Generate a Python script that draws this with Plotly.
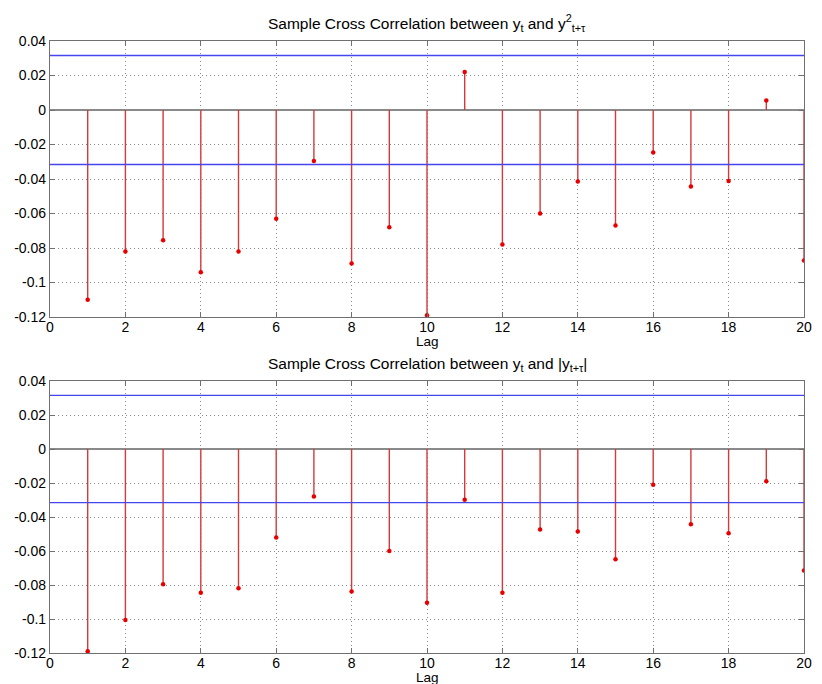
import plotly.graph_objects as go

lags = list(range(1, 21))
xc_sq = [-0.110, -0.082, -0.0755, -0.094, -0.082, -0.063, -0.0296, -0.089, -0.068, -0.119,
         0.022, -0.078, -0.060, -0.0415, -0.067, -0.0247, -0.0444, -0.0412, 0.0055, -0.0873]
xc_abs = [-0.119, -0.1006, -0.0796, -0.0846, -0.0819, -0.052, -0.028, -0.0838, -0.060, -0.0905,
          -0.0299, -0.0846, -0.0473, -0.0486, -0.0648, -0.021, -0.0442, -0.0496, -0.019, -0.0715]
conf = 0.0316
xticks = list(range(0, 21, 2))
yticks = [0.04, 0.02, 0, -0.02, -0.04, -0.06, -0.08, -0.1, -0.12]
ytick_text = ["0.04", "0.02", "0", "-0.02", "-0.04", "-0.06", "-0.08", "-0.1", "-0.12"]
titles = ["Sample Cross Correlation between y<sub>t</sub> and y<sup>2</sup><sub>t+τ</sub>",
          "Sample Cross Correlation between y<sub>t</sub> and |y<sub>t+τ</sub>|"]

W, H = 822, 684
ml, mr, mt, mb = 50, 10, 41, 31
ph = H - mt - mb
top_dom = [1 - (317 - mt) / ph, 1]
bot_dom = [0, 1 - (381 - mt) / ph]

fig = go.Figure()
fam = "Liberation Sans, Arial, sans-serif"
font = dict(family=fam, size=14, color="black")

for i, vals in enumerate([xc_sq, xc_abs]):
    xa = "x" if i == 0 else "x2"
    ya = "y" if i == 0 else "y2"
    sx, sy = [], []
    for l, v in zip(lags, vals):
        sx += [l, l, None]
        sy += [0, v, None]
    # baseline
    fig.add_trace(go.Scatter(x=[0, 20], y=[0, 0], mode="lines",
                             line=dict(color="#8a8a8a", width=2), xaxis=xa, yaxis=ya,
                             showlegend=False, hoverinfo="skip"))
    fig.add_trace(go.Scatter(x=sx, y=sy, mode="lines", line=dict(color="#d43a3a", width=1.4),
                             xaxis=xa, yaxis=ya, showlegend=False, hoverinfo="skip"))
    fig.add_trace(go.Scatter(x=lags, y=vals, mode="markers",
                             marker=dict(color="#e80000", size=4.5), xaxis=xa, yaxis=ya,
                             showlegend=False))
    # confidence bounds
    for c in (-conf, conf):
        fig.add_trace(go.Scatter(x=[0, 20], y=[c, c], mode="lines",
                                 line=dict(color="#4646ee", width=1.3),
                                 xaxis=xa, yaxis=ya, showlegend=False, hoverinfo="skip"))

axis_common = dict(showline=True, linecolor="#707070", linewidth=1.2, mirror="ticks",
                   ticks="inside", ticklen=5, tickcolor="#707070",
                   showgrid=True, gridcolor="#8c8c8c", griddash="1px,3px", gridwidth=1,
                   zeroline=False, tickfont=font)

fig.update_layout(
    width=W, height=H, margin=dict(l=ml, r=mr, t=mt, b=mb),
    paper_bgcolor="white", plot_bgcolor="white", font=font,
    xaxis=dict(domain=[0, 1], range=[0, 20], tickvals=xticks, anchor="y",
               ticklabelstandoff=-3, **axis_common),
    yaxis=dict(domain=top_dom, range=[-0.12, 0.04], tickvals=yticks, ticktext=ytick_text,
               anchor="x", **axis_common),
    xaxis2=dict(domain=[0, 1], range=[0, 20], tickvals=xticks, anchor="y2",
                ticklabelstandoff=-3, **axis_common),
    yaxis2=dict(domain=bot_dom, range=[-0.12, 0.04], tickvals=yticks, ticktext=ytick_text,
                anchor="x2", **axis_common),
)

ann = []
for i, dom in enumerate([top_dom, bot_dom]):
    ann.append(dict(text=titles[i], xref="paper", yref="paper", x=0.5, y=dom[1],
                    yshift=5, showarrow=False, xanchor="center", yanchor="bottom",
                    font=dict(family=fam, size=15.5, color="black")))
    ann.append(dict(text="Lag", xref="paper", yref="paper", x=0.5, y=dom[0],
                    yshift=-15, showarrow=False, xanchor="center", yanchor="top",
                    font=dict(family=fam, size=13.5, color="black")))
fig.update_layout(annotations=ann)

fig.write_html("out.html")
